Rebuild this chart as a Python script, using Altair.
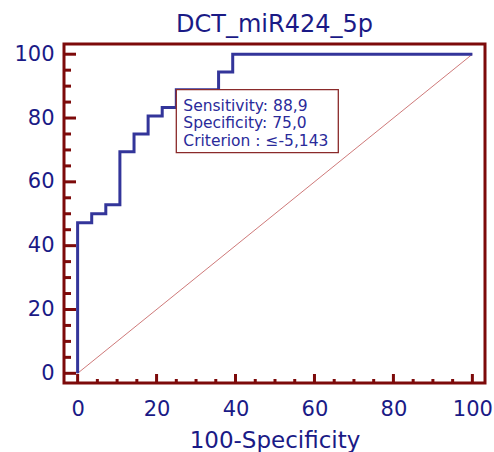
import altair as alt
import pandas as pd

# ---- data ----
chart_title = "DCT_miR424_5p"
x_title = "100-Specificity"
roc_fpr = [0, 0, 3.57, 7.14, 10.71, 14.29, 17.86, 21.43, 25.0, 35.71, 39.29, 100]
roc_tpr = [0, 47.2, 50.0, 52.8, 69.4, 75.0, 80.6, 83.3, 88.9, 94.4, 100, 100]
diag_vals = [0, 100]
major_ticks = [0, 20, 40, 60, 80, 100]
minor_ticks = [5, 10, 15, 25, 30, 35, 45, 50, 55, 65, 70, 75, 85, 90, 95]
crit_fpr = [25.0]
crit_tpr = [88.9]
sens_text = "88,9"
spec_text = "75,0"
crit_text = "≤-5,143"

# ---- styles ----
W, H = 421, 339
FONT = "DejaVu Sans"
FRAME = "#7d0a0a"
NAVY = "#1a1a86"
CURVE = "#33359a"
DIAG = "#c86a6a"

xs = alt.Scale(domain=[-3.45, 103.2], nice=False, zero=False)
ys = alt.Scale(domain=[-3.04, 103.2], nice=False, zero=False)

x_axis = alt.Axis(values=major_ticks, title=x_title, ticks=False, domain=False, grid=False,
                  labelPadding=15, labelFontSize=21, labelColor=NAVY, labelFont=FONT,
                  labelFlush=False, format="d",
                  titleFontSize=23, titleColor=NAVY, titleFont=FONT, titleFontWeight="normal",
                  titleY=64, titleBaseline="alphabetic")
y_axis = alt.Axis(values=major_ticks, title=None, ticks=False, domain=False, grid=False,
                  labelPadding=10, labelFontSize=21, labelColor=NAVY, labelFont=FONT,
                  labelFlush=False, format="d")

roc_df = pd.DataFrame({"x": roc_fpr, "y": roc_tpr, "i": list(range(len(roc_fpr)))})
diag_df = pd.DataFrame({"x": diag_vals, "y": diag_vals})
crit_df = pd.DataFrame({"x": crit_fpr, "y": crit_tpr})

diag = alt.Chart(diag_df).mark_line(color=DIAG, strokeWidth=0.9).encode(
    x=alt.X("x:Q", scale=xs, axis=x_axis), y=alt.Y("y:Q", scale=ys, axis=y_axis))

curve = alt.Chart(roc_df).mark_line(interpolate="step-after", color=CURVE, strokeWidth=3).encode(
    x=alt.X("x:Q", scale=xs, axis=x_axis), y=alt.Y("y:Q", scale=ys, axis=y_axis),
    order="i:Q")

y_major = alt.Chart(pd.DataFrame({"y": major_ticks})).mark_rule(color=FRAME, strokeWidth=3).encode(
    y=alt.Y("y:Q", scale=ys, axis=y_axis), x=alt.value(0), x2=alt.value(12))
y_minor = alt.Chart(pd.DataFrame({"y": minor_ticks})).mark_rule(color=FRAME, strokeWidth=3).encode(
    y=alt.Y("y:Q", scale=ys, axis=y_axis), x=alt.value(0), x2=alt.value(7))
x_major = alt.Chart(pd.DataFrame({"x": major_ticks})).mark_rule(color=FRAME, strokeWidth=3).encode(
    x=alt.X("x:Q", scale=xs, axis=x_axis), y=alt.value(H), y2=alt.value(H - 9))
x_minor = alt.Chart(pd.DataFrame({"x": minor_ticks})).mark_rule(color=FRAME, strokeWidth=3).encode(
    x=alt.X("x:Q", scale=xs, axis=x_axis), y=alt.value(H), y2=alt.value(H - 4))

box = alt.Chart(crit_df).mark_rect(fill="white", stroke="#8a2a2a", strokeWidth=1.3,
                                   x2Offset=162, y2Offset=63).encode(
    x=alt.X("x:Q", scale=xs, axis=x_axis), x2="x:Q",
    y=alt.Y("y:Q", scale=ys, axis=y_axis), y2="y:Q")

lines = [f"Sensitivity: {sens_text}", f"Specificity: {spec_text}", f"Criterion : {crit_text}"]
label = alt.Chart(crit_df).mark_text(text=lines, align="left", baseline="alphabetic",
                                     dx=7, dy=21, lineHeight=17.5, fontSize=15.5,
                                     font=FONT, color="#2a2a9a").encode(
    x=alt.X("x:Q", scale=xs, axis=x_axis), y=alt.Y("y:Q", scale=ys, axis=y_axis))

chart = alt.layer(diag, curve, box, label, y_major, y_minor, x_major, x_minor).properties(
    width=W, height=H,
    title=alt.TitleParams(chart_title, fontSize=24, font=FONT, color=NAVY, fontWeight="normal",
                          anchor="middle", frame="group", baseline="alphabetic", offset=12, dy=25),
    padding={"left": 64, "top": 44, "right": 9, "bottom": 69},
    autosize=alt.AutoSizeParams(type="none"),
).configure_view(stroke=FRAME, strokeWidth=3)

chart.save("out.html", embed_options={"renderer": "svg", "actions": False})
